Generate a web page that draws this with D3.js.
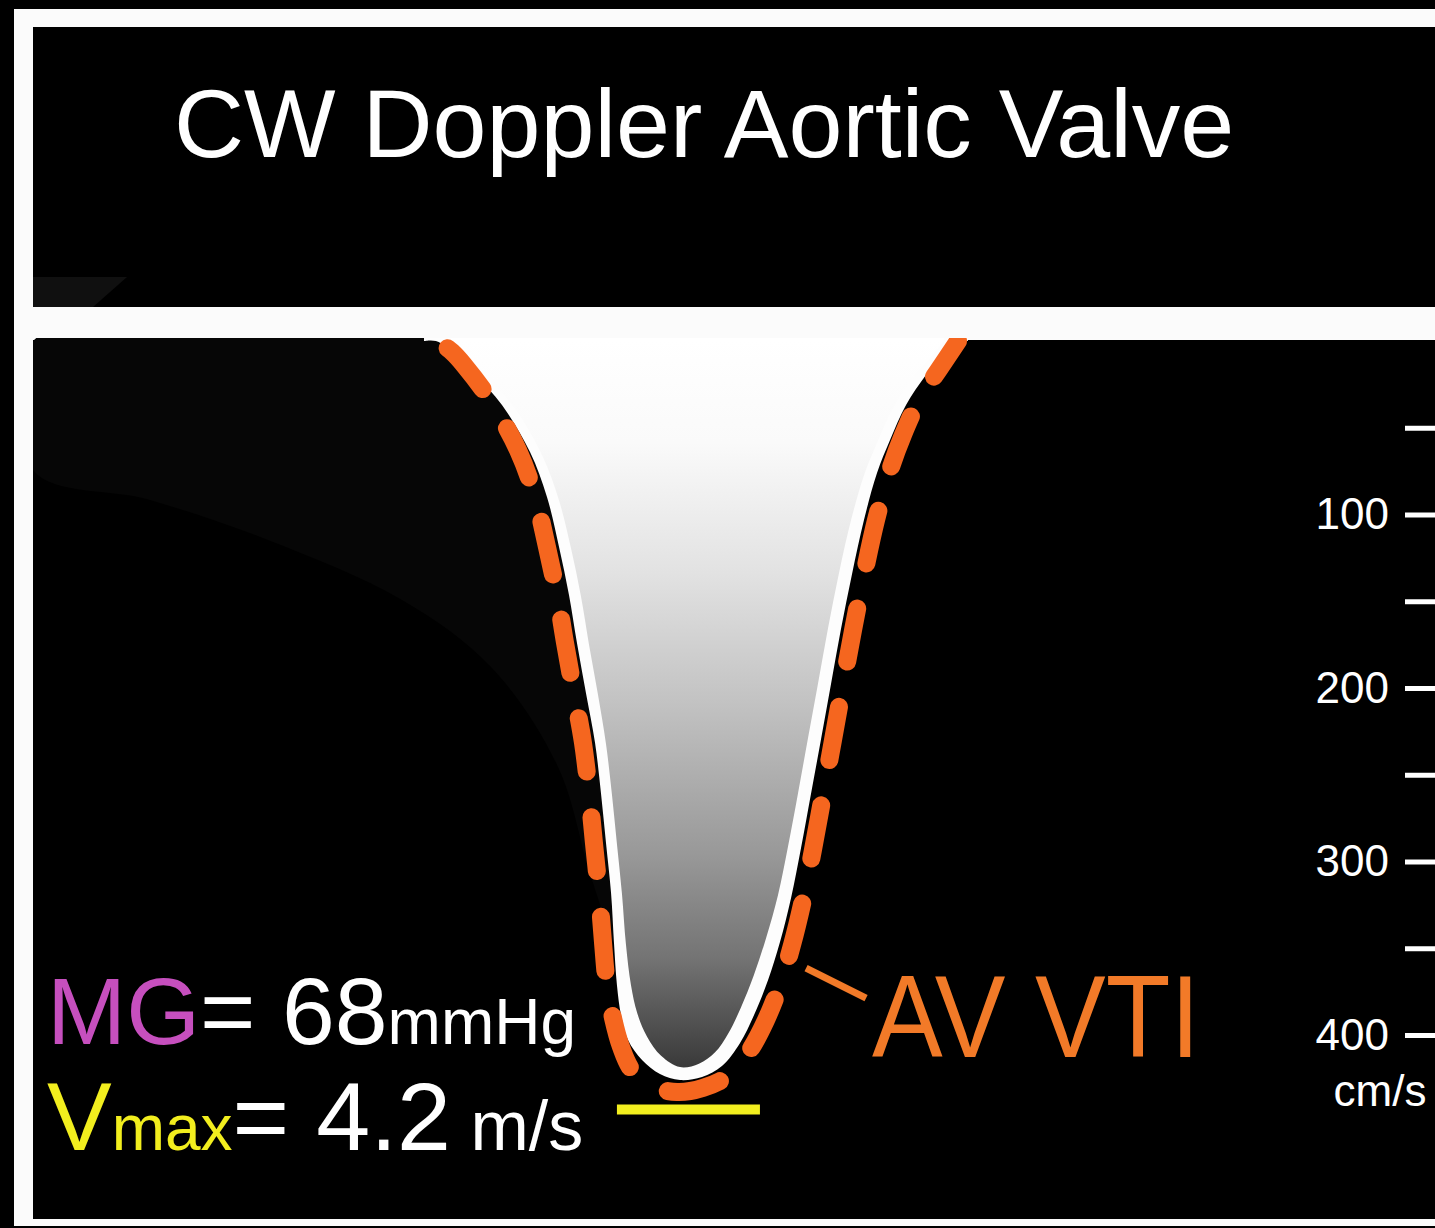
<!DOCTYPE html>
<html><head><meta charset="utf-8">
<script src="https://cdn.jsdelivr.net/npm/d3@7"></script>
<style>html,body{margin:0;padding:0;background:#000;overflow:hidden}svg{display:block}</style>
</head><body>
<script>
// ---------------- data ----------------
const title = "CW Doppler Aortic Valve";
const velocityTicks = [50, 100, 150, 200, 250, 300, 350, 400];
const velocityTickLabels = ["", "100", "", "200", "", "300", "", "400"];
const velocityUnit = "cm/s";

// spectral envelope (outer edge of the Doppler signal), time in ms, velocity in cm/s
const outerTime = [278.9, 287.4, 304.6, 316.0, 334.5, 354.5, 366.6, 375.2, 382.3, 388.0, 394.4, 400.9, 405.1, 408.7, 412.3, 414.4, 416.5, 419.4, 424.4, 434.4, 447.2, 461.5, 477.2, 491.4, 504.3, 514.3, 524.3, 532.8, 540.7, 547.8, 554.9, 562.1, 569.2, 576.3, 584.2, 592.7, 602.0, 611.3, 622.7, 636.9, 648.4, 658.3, 666.9];
const outerVelocity = [0, 0, 9.8, 19.6, 36.9, 64.0, 89.9, 118.7, 146.4, 174.1, 202.9, 231.7, 260.5, 289.3, 318.2, 347.0, 371.2, 388.5, 402.9, 414.4, 422.5, 426.0, 424.2, 417.9, 404.6, 388.5, 368.3, 346.4, 321.0, 292.2, 261.1, 229.4, 197.7, 166.0, 134.3, 103.2, 76.1, 57.1, 36.9, 19.6, 8.1, 0, 0];

// dense core of the spectrum
const coreTime = [296.0, 314.5, 325.9, 344.5, 363.7, 375.1, 383.7, 390.8, 396.5, 402.9, 408.7, 412.9, 416.5, 420.1, 422.9, 426.5, 431.0, 438.0, 448.0, 461.5, 475.0, 486.5, 496.0, 504.8, 514.2, 522.9, 531.4, 538.6, 545.7, 552.8, 560.0, 567.1, 574.9, 583.5, 592.8, 602.0, 613.5, 627.7, 639.8, 649.8];
const coreVelocity = [0, 12.1, 22.5, 39.8, 66.9, 91.6, 119.3, 147.0, 174.6, 203.5, 232.3, 261.1, 289.9, 318.7, 347.6, 371.2, 387.5, 401.0, 412.0, 418.5, 416.5, 410.0, 399.0, 384.4, 365.4, 344.1, 319.3, 291.1, 260.5, 228.8, 197.1, 165.4, 133.7, 103.2, 77.2, 58.8, 38.6, 21.3, 9.8, 0];

// traced AV VTI (dashed)
const vtiTime = [288.9, 298.9, 307.4, 326.0, 345.9, 358.1, 366.6, 373.8, 379.5, 385.9, 392.3, 396.6, 400.1, 403.7, 406.6, 409.4, 413.7, 419.4, 427.2, 441.5, 459.3, 477.9, 495.7, 511.4, 522.8, 532.8, 541.4, 549.2, 556.3, 563.5, 570.6, 577.7, 584.9, 592.7, 601.3, 611.3, 620.5, 632.7, 646.9, 659.8];
const vtiVelocity = [0, 6.3, 13.8, 34.0, 62.8, 89.9, 118.7, 146.4, 174.1, 202.9, 231.7, 260.5, 289.3, 318.2, 347.0, 371.2, 390.2, 406.9, 420.2, 429.4, 432.9, 430.5, 423.6, 408.6, 391.4, 371.2, 348.1, 322.2, 293.4, 261.7, 230.0, 198.3, 166.6, 134.9, 103.2, 74.4, 54.2, 32.9, 15.6, 0];

// faint background haze left of the envelope
const hazeTime = [0, 418.7, 418.7, 398.7, 374.5, 326.7, 263.2, 167.6, 83.5, 0];
const hazeVelocity = [0, 0, 351, 310.7, 245.5, 187.9, 149.3, 114.7, 91.6, 74.4];

// annotations
const vmaxMarkerTime = [416.5, 518.5];
const vmaxMarkerVelocity = 443;
const leaderTime = [551.4, 594.2];
const leaderVelocity = [361.4, 378.7];
const mgLabel = ["MG", "= 68", "mmHg"];
const vmaxLabel = ["V", "max", "= 4.2", " m/s"];
const vtiLabel = "AV VTI";

// ---------------- layout ----------------
const W = 1435, H = 1228;
const FONT = "'Liberation Sans', Arial, Helvetica, sans-serif";
const plotTop = 340, plotBottom = 1219, plotLeft = 33;
const ORANGE = "#f5661f", ORANGE_TXT = "#f27a28", YELLOW = "#f2ee1e", MAGENTA = "#c64fbe";

const x = d3.scaleLinear().domain([0, 1000]).range([33, 1435]);
const y = d3.scaleLinear().domain([0, 400]).range([341, 1035]);

const svg = d3.select("body").append("svg").attr("width", W).attr("height", H);
const defs = svg.append("defs");
const grad = defs.append("linearGradient").attr("id", "core").attr("gradientUnits", "userSpaceOnUse")
  .attr("x1", 0).attr("x2", 0).attr("y1", y(0)).attr("y2", y(418));
[[0, "#ffffff"], [0.14, "#fafafa"], [0.32, "#e2e2e2"], [0.5, "#c2c2c2"], [0.71, "#989898"], [0.85, "#747474"], [1, "#3a3a3a"]]
  .forEach(([o, c]) => grad.append("stop").attr("offset", o).attr("stop-color", c));
defs.append("clipPath").attr("id", "plotclip").append("rect")
  .attr("x", plotLeft).attr("y", plotTop - 2).attr("width", W - plotLeft).attr("height", plotBottom - plotTop + 2);

// frame
svg.append("rect").attr("width", W).attr("height", H).attr("fill", "#000");
svg.append("rect").attr("x", 14).attr("y", 9).attr("width", W).attr("height", 1217).attr("fill", "#fbfbfb");
svg.append("rect").attr("x", plotLeft).attr("y", 27).attr("width", W - plotLeft).attr("height", 280).attr("fill", "#000");
svg.append("path").attr("d", "M33,277L127,277L93,307L33,307Z").attr("fill", "#101010");
svg.append("rect").attr("x", plotLeft).attr("y", plotTop).attr("width", W - plotLeft).attr("height", plotBottom - plotTop).attr("fill", "#000");

// title
svg.append("text").attr("x", 174).attr("y", 157).attr("fill", "#fff")
  .attr("font-family", FONT).attr("font-size", 97).text(title);

const g = svg.append("g").attr("clip-path", "url(#plotclip)");

// haze
const hazePts = hazeTime.map((t, i) => [x(t), y(hazeVelocity[i])]);
g.append("path").attr("d", d3.line().curve(d3.curveCatmullRomClosed)(hazePts)).attr("fill", "#060606");

// envelope
const outerPts = outerTime.map((t, i) => ({t, v: outerVelocity[i]}));
const corePts = coreTime.map((t, i) => ({t, v: coreVelocity[i]}));
const vtiPts = vtiTime.map((t, i) => ({t, v: vtiVelocity[i]}));
const area = d3.area().curve(d3.curveCatmullRom.alpha(0.5)).x(d => x(d.t)).y0(plotTop - 2).y1(d => y(d.v));
g.append("path").attr("d", area(outerPts)).attr("fill", "#fdfdfd");
g.append("path").attr("d", area(corePts)).attr("fill", "url(#core)");

const line = d3.line().curve(d3.curveCatmullRom.alpha(0.5)).x(d => x(d.t)).y(d => y(d.v));
g.append("path").attr("d", line(vtiPts)).attr("fill", "none").attr("stroke", ORANGE)
  .attr("stroke-width", 18).attr("stroke-linecap", "round").attr("stroke-dasharray", "54 46")
  .attr("stroke-dashoffset", 88);

// vmax marker
g.append("line").attr("x1", x(vmaxMarkerTime[0])).attr("x2", x(vmaxMarkerTime[1]))
  .attr("y1", y(vmaxMarkerVelocity)).attr("y2", y(vmaxMarkerVelocity))
  .attr("stroke", YELLOW).attr("stroke-width", 10);

// leader
g.append("line").attr("x1", x(leaderTime[0])).attr("y1", y(leaderVelocity[0]))
  .attr("x2", x(leaderTime[1])).attr("y2", y(leaderVelocity[1]))
  .attr("stroke", ORANGE_TXT).attr("stroke-width", 7);

// labels
const mg = svg.append("text").attr("x", 47).attr("y", 1044).attr("font-family", FONT).attr("fill", "#fff");
mg.append("tspan").attr("font-size", 95).attr("fill", MAGENTA).text(mgLabel[0]);
mg.append("tspan").attr("font-size", 95).text(mgLabel[1]);
mg.append("tspan").attr("font-size", 64).text(mgLabel[2]);

const vm = svg.append("text").attr("x", 47).attr("y", 1150).attr("font-family", FONT).attr("fill", "#fff");
vm.append("tspan").attr("font-size", 97).attr("fill", YELLOW).text(vmaxLabel[0]);
vm.append("tspan").attr("font-size", 64).attr("fill", YELLOW).text(vmaxLabel[1]);
vm.append("tspan").attr("font-size", 97).text(vmaxLabel[2]);
vm.append("tspan").attr("font-size", 70).text(vmaxLabel[3]);

svg.append("text").attr("transform", "translate(872,1057) scale(1,1.1)")
  .attr("font-family", FONT).attr("font-size", 106).attr("fill", ORANGE_TXT).text(vtiLabel);

// axis
const axis = d3.axisLeft(y).tickValues(velocityTicks).tickSize(30).tickPadding(16)
  .tickFormat((d, i) => velocityTickLabels[i]);
const ax = svg.append("g").attr("transform", `translate(${W},0)`).call(axis);
ax.select(".domain").remove();
ax.selectAll(".tick line").attr("stroke", "#fff").attr("stroke-width", 5);
ax.selectAll(".tick text").attr("fill", "#fff").attr("font-family", FONT).attr("font-size", 44);
svg.append("text").attr("x", 1380).attr("y", 1106).attr("text-anchor", "middle")
  .attr("fill", "#fff").attr("font-family", FONT).attr("font-size", 44).text(velocityUnit);
</script>
</body></html>
